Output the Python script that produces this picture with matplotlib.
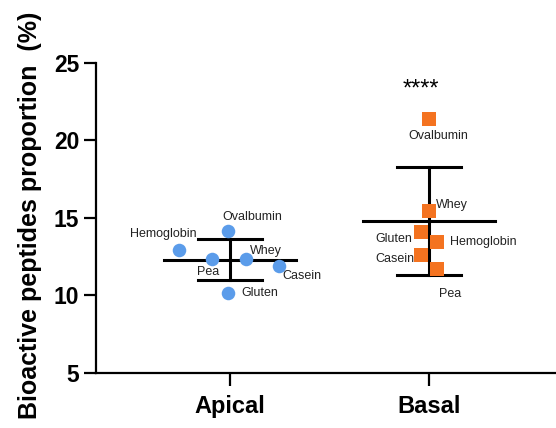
import numpy as np
import matplotlib
matplotlib.use('Agg')
import matplotlib.pyplot as plt

plt.rcParams['font.family'] = ['Liberation Sans', 'DejaVu Sans']

groups = ['Apical', 'Basal']
proteins = ['Ovalbumin', 'Hemoglobin', 'Pea', 'Whey', 'Casein', 'Gluten']
apical = [14.17, 12.95, 12.37, 12.37, 11.92, 10.13]
basal = [21.41, 13.46, 11.73, 15.45, 12.63, 14.10]
stars = '****'

# horizontal jitter and label placement (pixels) per point
apical_dx = [-0.01, -0.255, -0.09, 0.08, 0.245, -0.01]
basal_dx = [0.0, 0.04, 0.04, 0.0, -0.04, -0.04]
apical_lab = [(-5, 14, 'left'), (-15, 16, 'center'), (-4, -13, 'center'),
              (4, 8, 'left'), (4, -10, 'left'), (14, 0, 'left')]
basal_lab = [(9, -17, 'center'), (13, 0, 'left'), (13, -25, 'center'),
             (7, 6, 'left'), (-7, -4, 'right'), (-9, -7, 'right')]

blue = '#5b9cea'
orange = '#f47320'

fig = plt.figure(figsize=(5.56, 4.28), dpi=100)
ax = fig.add_axes([0.1727, 0.1285, 0.827, 0.7245])

def draw_group(x0, vals, dx, labs, color, marker):
    vals = np.array(vals)
    m = vals.mean()
    sd = vals.std(ddof=1)
    ax.plot([x0 - 0.33, x0 + 0.33], [m, m], color='black', lw=2.2, zorder=2)
    ax.plot([x0, x0], [m - sd, m + sd], color='black', lw=2.2, zorder=2)
    for s in (m - sd, m + sd):
        ax.plot([x0 - 0.16, x0 + 0.16], [s, s], color='black', lw=2.2, zorder=2)
    xs = x0 + np.array(dx)
    ax.scatter(xs, vals, s=95, color=color, marker=marker, zorder=3, linewidths=0)
    for name, x, y, (ox, oy, ha) in zip(proteins, xs, vals, labs):
        ax.annotate(name, (x, y), xytext=(ox, oy), textcoords='offset pixels',
                    ha=ha, va='center', fontsize=9, color='#222222', zorder=4)

draw_group(1, apical, apical_dx, apical_lab, blue, 'o')
draw_group(2, basal, basal_dx, basal_lab, orange, 's')

ax.text(1.96, 23.3, stars, ha='center', va='center', fontsize=17)

ax.set_xlim(0.33, 2.635)
ax.set_ylim(5, 25)
ax.set_yticks([5, 10, 15, 20, 25])
ax.set_xticks([1, 2])
ax.set_xticklabels(groups)
ax.spines['top'].set_visible(False)
ax.spines['right'].set_visible(False)
for sp in ('left', 'bottom'):
    ax.spines[sp].set_linewidth(1.6)
ax.tick_params(width=1.6, length=9, labelsize=16.5)
ax.tick_params(axis='x', labelsize=17, pad=7)
ax.tick_params(axis='y', pad=3)
for lab in ax.get_xticklabels() + ax.get_yticklabels():
    lab.set_fontweight('bold')
ax.set_ylabel('Bioactive peptides proportion  (%)', fontsize=18, fontweight='bold')
ax.yaxis.set_label_coords(-0.117, 0.51)

fig.savefig('out.png', dpi=100)
